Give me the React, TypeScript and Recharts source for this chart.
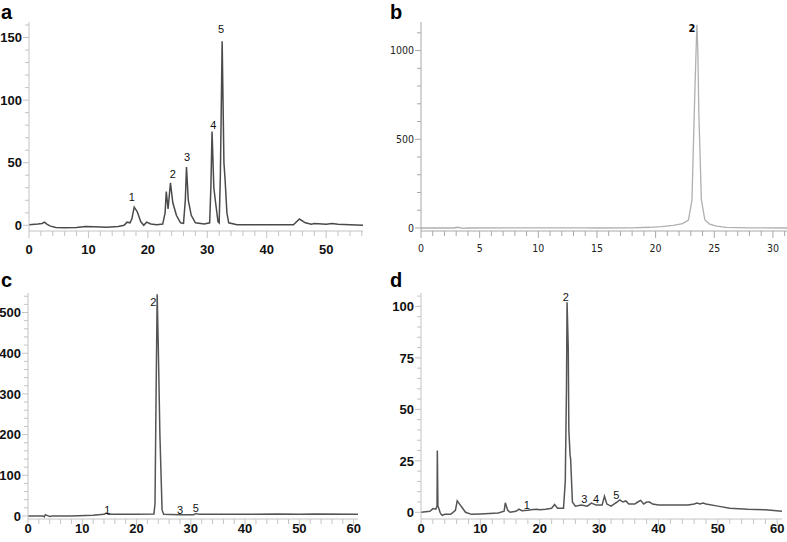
import React from 'react';
import { LineChart, Line, XAxis, YAxis, ReferenceDot } from 'recharts';

// chromatogram traces, [retention time (min), signal]
const traceA: [number, number][] = [
  [0, 0.5], [1.5, 1], [2.2, 1.5], [2.6, 2.5], [3.0, 1], [3.5, -0.5], [4.5, -1.8], [6, -2], [8, -1.8],
  [9.5, -1], [11, -1.2], [13, -1.5], [15, -1], [16, 0], [16.5, 2.5], [17, 2], [17.3, 5], [17.7, 14.5],
  [18.2, 11], [18.8, 3], [19.3, 0], [19.8, 2.5], [20.5, 1], [21.5, 0.5], [22.5, 1], [22.9, 10], [23.1, 27],
  [23.4, 13], [23.8, 34], [24.2, 18], [24.8, 8], [25.5, 2], [26.0, 1.5], [26.3, 20], [26.5, 46.5],
  [26.8, 20], [27.3, 8], [28, 2], [29.5, 1], [30.4, 2], [30.6, 30], [30.8, 75], [31.1, 30], [31.4, 18],
  [31.8, 3], [32.0, 2], [32.2, 40], [32.5, 147], [32.8, 50], [33.0, 36], [33.3, 10], [33.6, 2], [35, 0.5],
  [40, 0.5], [44.5, 0.5], [45.5, 5], [46.5, 2], [47.5, 0.8], [48, 1.5], [50, 0.8], [51, 1.5], [52, 0.8],
  [54, 0.5], [56.2, 0],
];

const traceB: [number, number][] = [
  [0, 0], [2.8, 0], [3.1, 4], [3.6, -2], [4, 0], [14, 1], [15, 0], [18, 1], [19.5, 4], [20.5, 8],
  [21.5, 15], [22.3, 25], [22.8, 45], [23.1, 160], [23.3, 660], [23.45, 1000], [23.52, 1145], [23.6, 1000],
  [23.68, 660], [23.9, 160], [24.2, 45], [24.6, 22], [25.2, 10], [26, 3], [28, 1], [31.2, 0],
];

const traceC: [number, number][] = [
  [0, 0], [2.8, 0], [3.0, -2], [3.2, 3], [3.6, 1], [4, -1], [4.5, 0], [8, 0], [12, 2], [14, 4], [14.4, 7],
  [14.8, 4], [20, 4], [23.2, 5], [23.4, 30], [23.6, 300], [23.8, 545], [24.0, 420], [24.3, 200],
  [24.7, 15], [25, 4], [28, 3], [30.5, 3], [31, 6], [31.5, 4], [40, 4], [46, 5], [50, 4], [53, 5], [60.8, 4],
];

const traceD: [number, number][] = [
  [0, 0], [1.5, 0.5], [2, 1.8], [2.5, 1.5], [2.7, 3], [2.75, 30], [2.85, 3], [3.0, 2], [3.2, 0], [3.4, -1],
  [3.6, -1.5], [4, -1], [5, -1], [5.8, 1], [6.1, 5.6], [6.5, 4], [7, 2], [7.5, 0], [8.5, -1], [10, -0.8],
  [13, -0.3], [14, 0.5], [14.2, 4.6], [14.6, 1], [15, 0], [16, 0.5], [16.5, 1.5], [17, 0.8], [18, 1],
  [18.5, 1.2], [19.5, 1.5], [20, 1.2], [21, 1.5], [22, 2], [22.5, 3.8], [23, 2], [24, 2], [24.3, 15],
  [24.5, 60], [24.6, 102], [24.8, 80], [24.9, 40], [25.1, 28], [25.2, 26], [25.5, 5], [26, 3], [27, 3.5],
  [28, 3], [28.7, 4.5], [29.5, 3.5], [30.5, 3.5], [30.9, 7.8], [31.3, 4], [32, 3], [33, 5], [33.5, 6],
  [34, 5], [34.5, 5.5], [35, 4], [36, 4], [36.5, 5], [37, 5.8], [37.5, 4], [38, 5], [38.5, 5], [39, 4],
  [40, 3.5], [45, 3.5], [46, 4], [46.5, 4.5], [47, 4], [47.5, 4.5], [48, 4], [50, 3], [52, 2], [55, 1.5],
  [58, 1.2], [60.8, 0.5],
];

// peak numbers: [time, signal, text]
const peaksA: [number, number, string][] = [
  [17.3, 22.8, '1'], [24.2, 41, '2'], [26.6, 54.8, '3'], [31.0, 80, '4'], [32.3, 156.8, '5'],
];
const peaksB: [number, number, string][] = [[23.1, 1126, '2']];
const peaksC: [number, number, string][] = [
  [14.6, 14.7, '1'], [23.1, 525, '2'], [28, 14.7, '3'], [30.9, 19.7, '5'],
];
const peaksD: [number, number, string][] = [
  [17.8, 3.4, '1'], [24.4, 104.4, '2'], [27.5, 6.3, '3'], [29.5, 6.3, '4'], [32.9, 8.4, '5'],
];

const xLabelsA = [0, 10, 20, 30, 40, 50];
const yLabelsA = [0, 50, 100, 150];
const xLabelsB = [0, 5, 10, 15, 20, 25, 30];
const yLabelsB = [0, 500, 1000];
const xLabelsC = [0, 10, 20, 30, 40, 50, 60];
const yLabelsC = [0, 100, 200, 300, 400, 500];
const xLabelsD = [0, 10, 20, 30, 40, 50, 60];
const yLabelsD = [0, 25, 50, 75, 100];

const steps = (max: number, step: number) => {
  const out: number[] = [];
  for (let v = 0; v <= max + 1e-9; v += step) out.push(v);
  return out;
};

interface FontCfg {
  family: string;
  size: number;
  weight: string | number;
  color: string;
}

interface PanelProps {
  left: number;
  top: number;
  width: number;
  height: number;
  margin: { top: number; right: number; bottom: number; left: number };
  yAxisWidth: number;
  xAxisHeight: number;
  trace: [number, number][];
  peaks: [number, number, string][];
  xDomain: [number, number];
  yDomain: [number, number];
  xLabels: number[];
  yLabels: number[];
  xMinor: number;
  yMinor: number;
  tickFont: FontCfg;
  peakFont: FontCfg;
  xLabelDy: number;
  lineColor: string;
  lineWidth: number;
  axisColor: string;
}

const Panel: React.FC<PanelProps> = (p) => {
  const data = p.trace.map(([t, v]) => ({ t, v }));
  const xTicks = steps(p.xDomain[1], p.xMinor);
  const yTicks = steps(p.yDomain[1], p.yMinor);

  const XTick = (props: any) => {
    const { x, y, payload } = props;
    const major = p.xLabels.includes(payload.value);
    return (
      <g>
        <line x1={x} x2={x} y1={y} y2={y + (major ? 7 : 5)} stroke={p.axisColor} />
        {major && (
          <text x={x} y={y + p.xLabelDy} textAnchor="middle" fontFamily={p.tickFont.family}
            fontSize={p.tickFont.size} fontWeight={p.tickFont.weight} fill={p.tickFont.color}>
            {payload.value}
          </text>
        )}
      </g>
    );
  };

  const YTick = (props: any) => {
    const { x, y, payload } = props;
    const major = p.yLabels.includes(payload.value);
    return (
      <g>
        <line x1={x - (major ? 6 : 4)} x2={x} y1={y} y2={y} stroke={p.axisColor} />
        {major && (
          <text x={x - 7} y={y + p.tickFont.size * 0.36} textAnchor="end" fontFamily={p.tickFont.family}
            fontSize={p.tickFont.size} fontWeight={p.tickFont.weight} fill={p.tickFont.color}>
            {payload.value}
          </text>
        )}
      </g>
    );
  };

  return (
    <div style={{ position: 'absolute', left: p.left, top: p.top }}>
      <LineChart width={p.width} height={p.height} data={data} margin={p.margin}>
        <XAxis dataKey="t" type="number" domain={p.xDomain} allowDataOverflow ticks={xTicks} interval={0}
          height={p.xAxisHeight} tickSize={0} tickMargin={0} tickLine={false} tick={XTick}
          axisLine={{ stroke: p.axisColor }} />
        <YAxis type="number" domain={p.yDomain} allowDataOverflow ticks={yTicks} interval={0}
          width={p.yAxisWidth} tickSize={0} tickMargin={0} tickLine={false} tick={YTick}
          axisLine={{ stroke: p.axisColor }} />
        <Line type="linear" dataKey="v" stroke={p.lineColor} strokeWidth={p.lineWidth} dot={false}
          isAnimationActive={false} />
        {p.peaks.map(([t, v, text]) => (
          <ReferenceDot key={text} x={t} y={v} r={0}
            shape={(s: any) => (
              <text x={s.cx} y={s.cy} dy="0.35em" textAnchor="middle" fontFamily={p.peakFont.family}
                fontSize={p.peakFont.size} fontWeight={p.peakFont.weight} fill={p.peakFont.color}>
                {text}
              </text>
            )} />
        ))}
      </LineChart>
    </div>
  );
};

const boldSans: FontCfg = { family: "'Liberation Sans', Arial, sans-serif", size: 13, weight: 'bold', color: '#111' };
const plainSans: FontCfg = { family: "'Liberation Sans', Arial, sans-serif", size: 11, weight: 'normal', color: '#111' };
const narrow: FontCfg = { family: "'DejaVu Sans Condensed', 'Liberation Sans Narrow', sans-serif", size: 10.5, weight: 'normal', color: '#222' };

export default function App() {
  return (
    <div style={{ position: 'absolute', left: 0, top: 0, width: 787, height: 542, background: '#fff', overflow: 'hidden' }}>
      <Panel left={0} top={0} width={380} height={262} margin={{ top: 22, right: 17, bottom: 0, left: 0 }}
        yAxisWidth={29} xAxisHeight={31} trace={traceA} peaks={peaksA} xDomain={[0, 56.2]} yDomain={[-4.55, 162.4]}
        xLabels={xLabelsA} yLabels={yLabelsA} xMinor={2} yMinor={10} tickFont={boldSans} peakFont={plainSans}
        xLabelDy={23} lineColor="#4a4a4a" lineWidth={1.5} axisColor="#c4c4c4" />
      <Panel left={390} top={0} width={397} height={262} margin={{ top: 22, right: 0, bottom: 0, left: 0 }}
        yAxisWidth={31} xAxisHeight={31} trace={traceB} peaks={peaksB} xDomain={[0, 31.2]} yDomain={[-17, 1161]}
        xLabels={xLabelsB} yLabels={yLabelsB} xMinor={1} yMinor={100} tickFont={narrow}
        peakFont={{ ...narrow, size: 11, weight: 'bold', color: '#000' }}
        xLabelDy={21} lineColor="#b0b0b0" lineWidth={1.3} axisColor="#a8a8a8" />
      <Panel left={0} top={270} width={380} height={272} margin={{ top: 23, right: 22, bottom: 0, left: 0 }}
        yAxisWidth={28} xAxisHeight={23} trace={traceC} peaks={peaksC} xDomain={[0, 60.8]} yDomain={[-7.4, 548]}
        xLabels={xLabelsC} yLabels={yLabelsC} xMinor={2} yMinor={20} tickFont={boldSans} peakFont={plainSans}
        xLabelDy={14} lineColor="#555" lineWidth={1.5} axisColor="#c4c4c4" />
      <Panel left={390} top={270} width={397} height={272} margin={{ top: 23, right: 5, bottom: 0, left: 0 }}
        yAxisWidth={31} xAxisHeight={23} trace={traceD} peaks={peaksD} xDomain={[0, 60.8]} yDomain={[-3.25, 106.5]}
        xLabels={xLabelsD} yLabels={yLabelsD} xMinor={2} yMinor={5} tickFont={boldSans} peakFont={plainSans}
        xLabelDy={14} lineColor="#555" lineWidth={1.5} axisColor="#c4c4c4" />
      <svg width={787} height={542} style={{ position: 'absolute', left: 0, top: 0, pointerEvents: 'none' }}>
        <g fontFamily="'Liberation Sans', Arial, sans-serif" fontWeight="bold" fontSize={20} fill="#000">
          <text x={1} y={19}>a</text>
          <text x={390} y={19}>b</text>
          <text x={1} y={287}>c</text>
          <text x={390} y={287}>d</text>
        </g>
      </svg>
    </div>
  );
}
